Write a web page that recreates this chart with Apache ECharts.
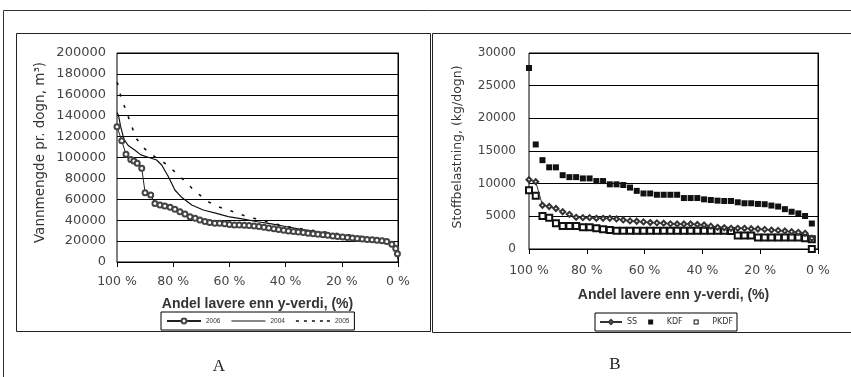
<!DOCTYPE html>
<html><head><meta charset="utf-8">
<script src="https://cdn.jsdelivr.net/npm/echarts@6/dist/echarts.min.js"></script>
<style>html,body{margin:0;padding:0;background:#fff}#c{width:851px;height:377px}</style>
</head><body><div id="c"></div>
<script>
// ---------- Panel A : Vannmengde ----------
const xA2006 = [100, 98.3, 96.8, 95.1, 94, 92.8, 91.2, 90, 88, 86.5, 84.7, 83, 81.1, 79.4, 77.6, 75.8, 74, 72.2, 70.5, 68.7, 67, 65.2, 63.5, 61.7, 60, 58.2, 56.5, 54.7, 53, 51.2, 49.5, 47.7, 46, 44.2, 42.5, 40.7, 39, 37.2, 35.5, 33.7, 32, 30.2, 28.5, 26.7, 25, 23.2, 21.5, 19.7, 18, 16.2, 14.5, 12.7, 11, 9.2, 7.5, 5.7, 4, 2.2, 0.8, 0.2];
const yA2006 = [129500, 116000, 103000, 98000, 96600, 94400, 89600, 66300, 64100, 56100, 54500, 53500, 52300, 50400, 48100, 45900, 43400, 41800, 40200, 38800, 37800, 37200, 37000, 36600, 36000, 35400, 35300, 35100, 34900, 34400, 33900, 33300, 32600, 31900, 31100, 30300, 29700, 29200, 28800, 28200, 27600, 27000, 26500, 26000, 25500, 24900, 24400, 24000, 23500, 23000, 22600, 22100, 21600, 21200, 20800, 20300, 19500, 17000, 13000, 8000];

const xA2004 = [100, 99.5, 98.7, 97.5, 96, 93.6, 91.5, 88.9, 85.9, 84.1, 81.7, 79.4, 77, 73.4, 69.3, 64.6, 60.4, 55, 50, 45, 40, 35, 30, 25, 20, 15, 10, 5, 2, 0.5, 0];
const yA2004 = [142900, 140700, 129500, 117400, 111500, 107000, 102500, 100200, 97600, 92800, 81600, 68900, 61900, 54500, 49800, 46600, 43400, 41000, 38500, 36500, 34000, 31500, 29500, 27500, 25500, 24000, 22500, 20500, 18500, 14000, 3000];

const xA2005 = [100, 99.2, 98.6, 97.2, 95.7, 94.5, 93.2, 90.6, 88.3, 85.3, 81.7, 78.8, 76, 73.5, 70.8, 67.9, 64.5, 61.6, 57.4, 53.9, 50, 46.7, 43, 39.6, 34, 28.9, 23, 17.1, 11.2, 6, 3, 0.5, 0];
const yA2005 = [172000, 166800, 156600, 148000, 136800, 128000, 118400, 109500, 104000, 98500, 92300, 84500, 77800, 71000, 64600, 58200, 53400, 50600, 47200, 43400, 41000, 38600, 36000, 33800, 31500, 29700, 27700, 25800, 23600, 21500, 19500, 14600, 5000];

// ---------- Panel B : Stoffbelastning ----------
const xB = [100, 97.67, 95.34, 93.01, 90.68, 88.35, 86.02, 83.69, 81.36, 79.03, 76.70, 74.37, 72.04, 69.71, 67.38, 65.05, 62.72, 60.39, 58.06, 55.73, 53.40, 51.07, 48.74, 46.41, 44.08, 41.75, 39.42, 37.09, 34.76, 32.43, 30.10, 27.77, 25.44, 23.11, 20.78, 18.45, 16.12, 13.79, 11.46, 9.13, 6.80, 4.47, 2.14];
const yKDF = [27700, 16000, 13600, 12500, 12500, 11300, 11000, 11000, 10800, 10800, 10400, 10400, 9900, 9900, 9800, 9400, 8900, 8500, 8500, 8300, 8300, 8300, 8300, 7800, 7800, 7800, 7600, 7500, 7400, 7350, 7350, 7150, 7000, 7000, 6900, 6850, 6650, 6500, 6100, 5700, 5450, 5050, 3900];
const ySS = [10600, 10300, 6700, 6500, 6200, 5700, 5300, 4850, 4800, 4800, 4700, 4700, 4700, 4600, 4450, 4300, 4250, 4150, 4050, 4000, 3950, 3850, 3830, 3830, 3830, 3750, 3670, 3500, 3320, 3250, 3170, 3170, 3170, 3100, 3060, 3000, 2900, 2850, 2750, 2650, 2550, 2400, 1650];
const xPKDF = [100, 97.67, 95.34, 93.01, 90.68, 88.35, 86.02, 83.69, 81.36, 79.03, 76.70, 74.37, 72.04, 69.71, 67.38, 65.05, 62.72, 60.39, 58.06, 55.73, 53.40, 51.07, 48.74, 46.41, 44.08, 41.75, 39.42, 37.09, 34.76, 32.43, 30.10, 27.77, 25.44, 23.11, 20.78, 18.45, 16.12, 13.79, 11.46, 9.13, 6.80, 4.47, 2.14, 2.14];
const yPKDF = [9000, 8150, 5050, 4800, 3930, 3520, 3520, 3520, 3320, 3320, 3170, 3010, 2900, 2800, 2800, 2800, 2800, 2800, 2800, 2800, 2800, 2800, 2800, 2800, 2800, 2800, 2800, 2800, 2800, 2800, 2750, 2050, 2050, 2050, 1750, 1750, 1750, 1750, 1750, 1750, 1750, 1650, 1500, 0];

const xTickSuffix = ' %';
const legendA = ['2006', '2004', '2005'];
const legendB = ['SS', 'KDF', 'PKDF'];
const titleX = 'Andel lavere enn y-verdi, (%)';
const titleYA = 'Vannmengde pr. dogn, m³)';
const titleYB = 'Stoffbelastning, (kg/dogn)';

const zip = (xs, ys) => xs.map((x, i) => [x, ys[i]]);
const INK = '#111';
const LBL = '#444';

// legend icon shapes (drawn by the legend, not data marks)
const ICON_SOLID = 'path://M0,0h34v1.1h-34z';
const ICON_DASH = 'path://M0,0h3v1.4h-3z M8,0h3v1.4h-3z M16,0h3v1.4h-3z M24,0h3v1.4h-3z M31,0h3v1.4h-3z';
const ICON_SQ = 'path://M0,0h4v4h-4z';
const ICON_ESQ = 'path://M0,0h5v5h-5z M1,1v3h3v-3z';

function xAxisCfg(gi, margin, gap) {
  return {
    gridIndex: gi, type: 'value', min: 0, max: 100, interval: 20, inverse: true,
    axisLine: { show: true, lineStyle: { color: '#000', width: 1 } },
    axisTick: { show: true, inside: false, length: 5, lineStyle: { color: '#000' } },
    axisLabel: { formatter: v => v + xTickSuffix, margin: margin, color: LBL, fontFamily: 'DejaVu Sans', fontSize: 12.5 },
    splitLine: { show: false },
    name: titleX, nameLocation: 'middle', nameGap: gap,
    nameTextStyle: { fontFamily: 'Liberation Sans', fontWeight: 'bold', fontSize: 14, color: '#333' }
  };
}
function yAxisCfg(gi, max, interval, fs, margin, name, nameFs, gap, shift) {
  return {
    gridIndex: gi, type: 'value', min: 0, max: max, interval: interval,
    axisLine: { show: true, lineStyle: { color: '#000', width: 1 } },
    axisTick: { show: true, inside: false, length: 4, lineStyle: { color: '#000' } },
    axisLabel: { formatter: v => String(v), margin: margin, color: LBL, fontFamily: 'DejaVu Sans', fontSize: fs },
    splitLine: { show: true, lineStyle: { color: '#000', width: 1 } },
    name: name, nameLocation: 'middle', nameRotate: 90, nameGap: gap,
    nameTextStyle: { fontFamily: 'DejaVu Sans', fontSize: nameFs, color: '#333', padding: [0, 0, 0, shift] }
  };
}

const chart = echarts.init(document.getElementById('c'), null, { renderer: 'canvas' });
chart.setOption({
  animation: false,
  backgroundColor: '#fff',
  grid: [
    { left: 117, top: 53, width: 281, height: 209, show: true, borderColor: '#000', borderWidth: 1, backgroundColor: 'transparent' },
    { left: 529, top: 53, width: 289, height: 196, show: true, borderColor: '#000', borderWidth: 1, backgroundColor: 'transparent' }
  ],
  xAxis: [xAxisCfg(0, 13, 35), xAxisCfg(1, 15, 39)],
  yAxis: [
    yAxisCfg(0, 200000, 20000, 13, 11, titleYA, 13.5, 70, 10),
    yAxisCfg(1, 30000, 5000, 12, 13, titleYB, 12.5, 65, 8)
  ],
  legend: [
    {
      data: [{ name: legendA[0] }, { name: legendA[1], icon: ICON_SOLID }, { name: legendA[2], icon: ICON_DASH }],
      left: 161, top: 312, orient: 'horizontal',
      itemWidth: 34, itemHeight: 6, itemGap: 11, padding: [5.5, 5],
      borderColor: '#000', borderWidth: 1, backgroundColor: '#fff',
      textStyle: { fontFamily: 'Liberation Sans', fontSize: 6.5, color: '#333' },
      selectedMode: false
    },
    {
      data: [{ name: legendB[0] }, { name: legendB[1], icon: ICON_SQ, itemStyle: { color: INK } }, { name: legendB[2], icon: ICON_ESQ, itemStyle: { color: INK, borderWidth: 0 } }],
      left: 595, top: 313, orient: 'horizontal',
      itemWidth: 22, itemHeight: 5, itemGap: 11, padding: [5, 4],
      borderColor: '#000', borderWidth: 1, backgroundColor: '#fff',
      textStyle: { fontFamily: 'DejaVu Sans', fontSize: 8, color: '#333' },
      selectedMode: false
    }
  ],
  graphic: [
    { type: 'line', silent: true, shape: { x1: 3.5, y1: 10.5, x2: 851, y2: 10.5 }, style: { stroke: '#333', lineWidth: 1 } },
    { type: 'line', silent: true, shape: { x1: 3.5, y1: 10.5, x2: 3.5, y2: 377 }, style: { stroke: '#333', lineWidth: 1 } },
    { type: 'rect', silent: true, shape: { x: 16.5, y: 33.5, width: 414, height: 298 }, style: { fill: 'none', stroke: '#222', lineWidth: 1 } },
    { type: 'rect', silent: true, shape: { x: 432.5, y: 33.5, width: 430, height: 299 }, style: { fill: 'none', stroke: '#222', lineWidth: 1 } },
    { type: 'text', silent: true, style: { text: 'A', x: 219, y: 367, align: 'center', verticalAlign: 'middle', textAlign: 'center', textVerticalAlign: 'middle', font: '17px "Liberation Serif"', fill: '#222' } },
    { type: 'text', silent: true, style: { text: 'B', x: 615, y: 365, align: 'center', verticalAlign: 'middle', textAlign: 'center', textVerticalAlign: 'middle', font: '17px "Liberation Serif"', fill: '#222' } }
  ],
  series: [
    { name: '2006', type: 'line', xAxisIndex: 0, yAxisIndex: 0, data: zip(xA2006, yA2006),
      symbol: 'emptyCircle', symbolSize: 5, lineStyle: { color: '#222', width: 1 }, itemStyle: { color: '#444', borderWidth: 0.8 } },
    { name: '2004', type: 'line', xAxisIndex: 0, yAxisIndex: 0, data: zip(xA2004, yA2004),
      symbol: 'none', lineStyle: { color: INK, width: 1.2 }, itemStyle: { color: INK } },
    { name: '2005', type: 'line', xAxisIndex: 0, yAxisIndex: 0, data: zip(xA2005, yA2005),
      symbol: 'none', lineStyle: { color: INK, width: 1.6, type: [3, 9] }, itemStyle: { color: INK } },
    { name: 'SS', type: 'line', xAxisIndex: 1, yAxisIndex: 1, data: zip(xB, ySS),
      symbol: 'emptyDiamond', symbolSize: 5, lineStyle: { color: '#333', width: 1 }, itemStyle: { color: '#333', borderWidth: 0.7 } },
    { name: 'KDF', type: 'scatter', xAxisIndex: 1, yAxisIndex: 1, data: zip(xB, yKDF),
      symbol: 'rect', symbolSize: 6, itemStyle: { color: INK, opacity: 1 } },
    { name: 'PKDF', type: 'scatter', xAxisIndex: 1, yAxisIndex: 1, data: zip(xPKDF, yPKDF),
      symbol: 'emptyRect', symbolSize: 6, itemStyle: { color: INK, borderWidth: 1, opacity: 1 } }
  ]
});
</script></body></html>
